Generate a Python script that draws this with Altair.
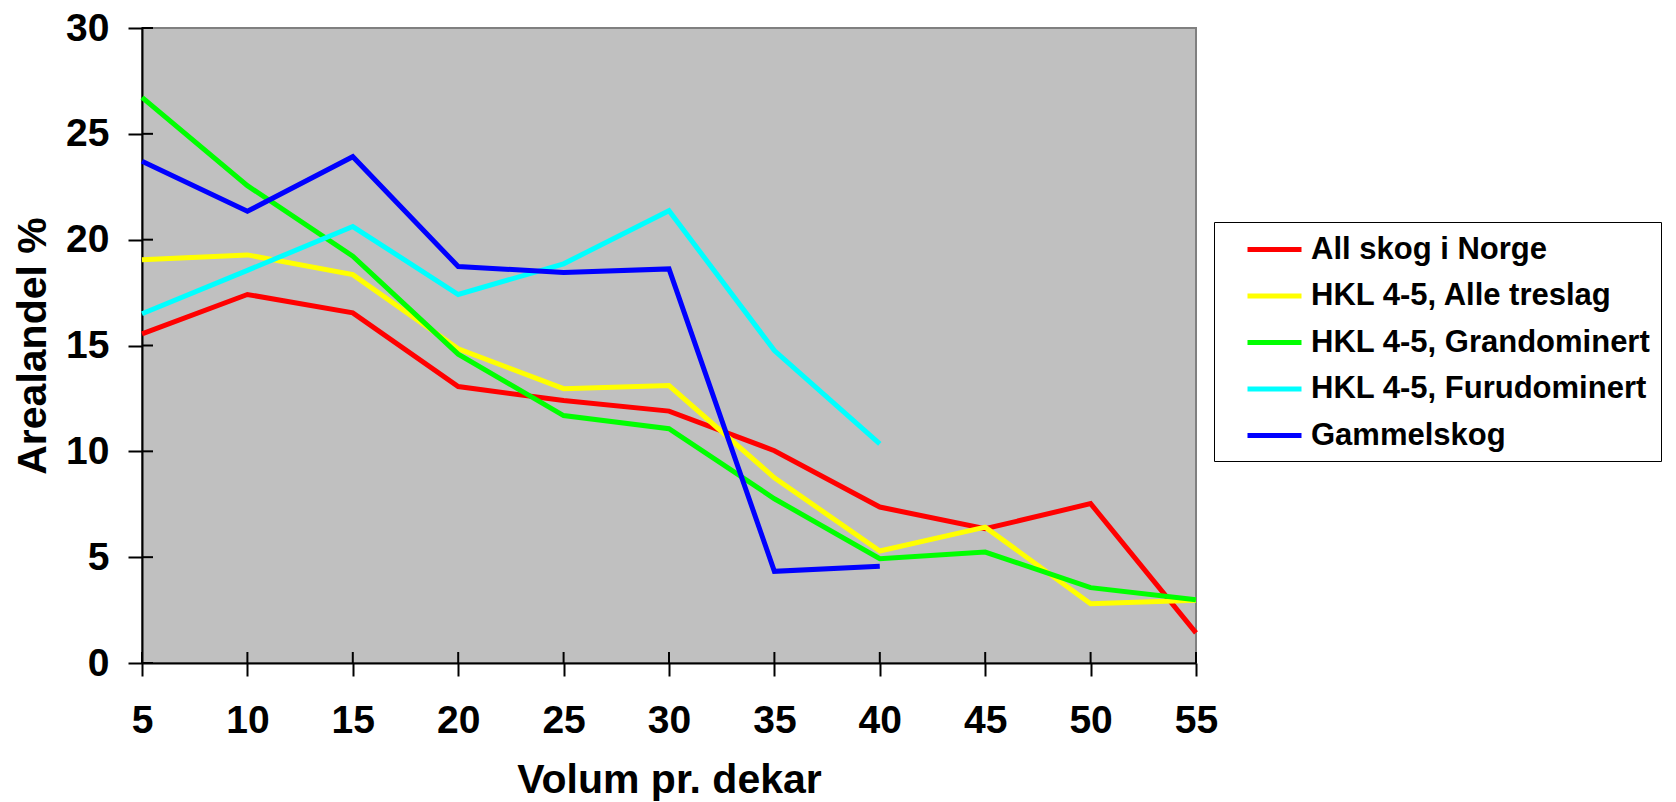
import altair as alt
import pandas as pd

x_vals = [5, 10, 15, 20, 25, 30, 35, 40, 45, 50, 55]
series_names = ["All skog i Norge", "HKL 4-5, Alle treslag", "HKL 4-5, Grandominert",
                "HKL 4-5, Furudominert", "Gammelskog"]
series_colors = ["#FF0000", "#FFFF00", "#00FF00", "#00FFFF", "#0000FF"]

all_skog = [15.55, 17.41, 16.54, 13.06, 12.40, 11.90, 10.03, 7.37, 6.34, 7.53, 1.42]
alle_treslag = [19.05, 19.28, 18.35, 14.84, 12.96, 13.11, 8.75, 5.29, 6.42, 2.80, 2.96]
grandominert = [26.72, 22.55, 19.22, 14.59, 11.69, 11.07, 7.76, 4.93, 5.24, 3.56, 2.99]
furudominert = [16.50, 18.55, 20.62, 17.41, 18.86, 21.37, 14.76, 10.35]
gammelskog = [23.70, 21.34, 23.92, 18.73, 18.45, 18.62, 4.33, 4.57]

y_ticks = [0, 5, 10, 15, 20, 25, 30]
x_ticks = [5, 10, 15, 20, 25, 30, 35, 40, 45, 50, 55]

rows = []
for i, (name, vals) in enumerate(zip(series_names,
                                     [all_skog, alle_treslag, grandominert, furudominert, gammelskog])):
    for x, v in zip(x_vals, vals):
        rows.append({"Volum": x, "Andel": v, "Serie": name, "k": i})
df = pd.DataFrame(rows)

W, H = 1054, 635
FONT = "Liberation Sans"

xs = alt.Scale(domain=[5, 55], nice=False, zero=False)
ys = alt.Scale(domain=[0, 30], nice=False, zero=True)

x_axis = alt.Axis(values=x_ticks, title="Volum pr. dekar", grid=False,
                  labelFont=FONT, labelFontSize=39, labelFontWeight="bold", labelColor="black",
                  labelPadding=25, labelFlush=False, labelOverlap=False,
                  tickSize=13, tickWidth=2, tickColor="black",
                  domainColor="black", domainWidth=2,
                  titleFont=FONT, titleFontSize=41, titleFontWeight="bold", titleColor="black",
                  titleX=W / 2, titleY=129, titleBaseline="alphabetic", titleAlign="center")
y_axis = alt.Axis(values=y_ticks, title="Arealandel %", grid=False,
                  labelFont=FONT, labelFontSize=39, labelFontWeight="bold", labelColor="black",
                  labelPadding=19, labelFlush=False, labelOverlap=False,
                  tickSize=14, tickWidth=2, tickColor="black",
                  domainColor="black", domainWidth=2,
                  titleFont=FONT, titleFontSize=41, titleFontWeight="bold", titleColor="black",
                  titleAngle=270, titleX=-97, titleY=H / 2, titleBaseline="alphabetic",
                  titleAlign="center")

lines = alt.Chart(df).mark_line(strokeWidth=5).encode(
    x=alt.X("Volum:Q", scale=xs, axis=x_axis),
    y=alt.Y("Andel:Q", scale=ys, axis=y_axis),
    color=alt.Color("Serie:N", sort=series_names,
                    scale=alt.Scale(domain=series_names, range=series_colors),
                    legend=alt.Legend(title=None, orient="none", legendX=1072, legendY=194,
                                      symbolType="M-1.8,0L1.8,0", symbolSize=900,
                                      symbolStrokeWidth=5, symbolOffset=33,
                                      labelFont=FONT, labelFontSize=31, labelFontWeight="bold",
                                      labelColor="black", labelLimit=600, labelOffset=19,
                                      strokeColor="black", fillColor="white",
                                      padding=10, rowPadding=13.5)),
    order=alt.Order("k:Q"),
    detail="k:N",
)

yt = alt.Chart(pd.DataFrame({"Volum": [5] * len(y_ticks), "Andel": y_ticks})).mark_rule(
    color="black", strokeWidth=2).encode(
    y=alt.Y("Andel:Q", scale=ys, axis=y_axis), x=alt.value(0), x2=alt.value(11))
xt = alt.Chart(pd.DataFrame({"Volum": x_ticks, "Andel": [0] * len(x_ticks)})).mark_rule(
    color="black", strokeWidth=2).encode(
    x=alt.X("Volum:Q", scale=xs, axis=x_axis), y=alt.value(H - 11), y2=alt.value(H))

chart = alt.layer(lines, yt, xt).properties(
    width=W, height=H, autosize="none",
    padding={"left": 134, "top": 20, "right": 1660 - 134 - W, "bottom": 794 - 20 - H},
    background="white",
).configure_view(fill="#C0C0C0", stroke="#808080", strokeWidth=2)

chart.save("out.html", embed_options={"renderer": "svg", "actions": False})
